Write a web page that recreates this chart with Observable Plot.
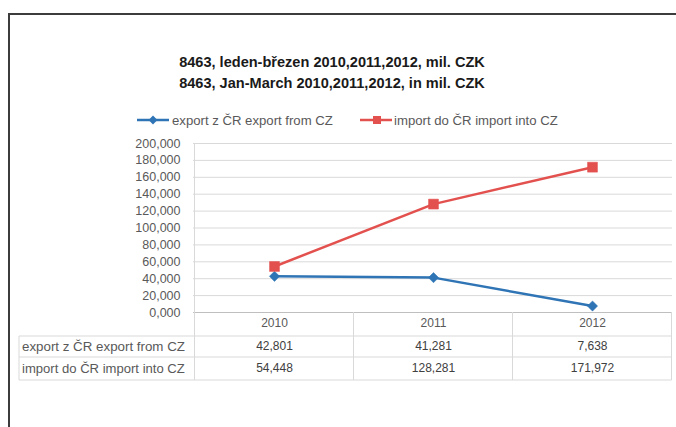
<!DOCTYPE html>
<html>
<head>
<meta charset="utf-8">
<script src="https://cdn.jsdelivr.net/npm/d3@7"></script>
<script src="https://cdn.jsdelivr.net/npm/@observablehq/plot@0.6"></script>
<style>
  html, body { margin: 0; padding: 0; background: #ffffff; }
  #chart { position: relative; width: 676px; height: 427px; overflow: hidden; }
</style>
</head>
<body>
<div id="chart"></div>
<script>
// ---- data ----
const years = ["2010", "2011", "2012"];
const exportValues = [42.801, 41.281, 7.638];
const importValues = [54.448, 128.281, 171.972];
const seriesNames = ["export z ČR export from CZ", "import do ČR import into CZ"];
const titleLines = ["8463, leden-březen 2010,2011,2012, mil. CZK", "8463, Jan-March 2010,2011,2012, in mil. CZK"];
const yTicks = [0, 20, 40, 60, 80, 100, 120, 140, 160, 180, 200];

const blue = "#2f74b5";
const red = "#e3514f";
const gridColor = "#d9d9d9";
const textColor = "#595959";
const font = "Liberation Sans, Arial, sans-serif";

const czFmt = d3.formatLocale({decimal: ",", thousands: " ", grouping: [3], currency: ["", ""]}).format(".3f");

const exportData = years.map((y, i) => ({year: y, value: exportValues[i]}));
const importData = years.map((y, i) => ({year: y, value: importValues[i]}));

const plot = Plot.plot({
  width: 676,
  height: 427,
  marginLeft: 193,
  marginRight: 4,
  marginTop: 143,
  marginBottom: 115,
  style: {fontFamily: font, background: "transparent", color: textColor, overflow: "visible"},
  x: {type: "point", domain: years, padding: 0.5, axis: null},
  y: {domain: [0, 200], axis: null},
  marks: [
    Plot.gridY(yTicks, {stroke: gridColor, strokeOpacity: 1, strokeWidth: 1}),
    Plot.ruleY([0], {stroke: "#bfbfbf", strokeWidth: 1}),
    Plot.axisY(yTicks, {tickSize: 0, tickPadding: 13, tickFormat: czFmt, fontSize: 12.5, fill: textColor, label: null}),
    Plot.axisX({tickSize: 0, tickPadding: 6, fontSize: 12, fill: textColor, label: null}),
    Plot.line(exportData, {x: "year", y: "value", stroke: blue, strokeWidth: 2.5}),
    Plot.line(importData, {x: "year", y: "value", stroke: red, strokeWidth: 2.5}),
    Plot.dot(exportData, {x: "year", y: "value", symbol: "diamond2", r: 4.6, fill: blue, stroke: blue, strokeWidth: 0.5}),
    Plot.dot(importData, {x: "year", y: "value", symbol: "square", r: 5.6, fill: red, stroke: red, strokeWidth: 0.5}),
    Plot.text(exportData, {x: "year", text: d => czFmt(d.value), frameAnchor: "bottom", dy: 34, lineAnchor: "middle", fontSize: 12, fill: "#404040"}),
    Plot.text(importData, {x: "year", text: d => czFmt(d.value), frameAnchor: "bottom", dy: 56, lineAnchor: "middle", fontSize: 12, fill: "#404040"})
  ]
});

document.getElementById("chart").appendChild(plot);

const svg = d3.select(plot);
const xs = plot.scale("x");
const ys = plot.scale("y");
const pos = years.map(y => xs.apply(y));
const step = pos[1] - pos[0];
const left = pos[0] - step / 2;
const right = pos[pos.length - 1] + step / 2;
const y0 = ys.apply(0);
const yTop = ys.apply(200);
const rowH = [24, 21, 23];
const row1 = y0 + rowH[0], row2 = row1 + rowH[1], row3 = row2 + rowH[2];
const tableLeft = 19;

const g = svg.append("g").attr("stroke", gridColor).attr("stroke-width", 1).attr("fill", "none");
// y axis line continuing into the table
g.append("line").attr("x1", left).attr("x2", left).attr("y1", yTop).attr("y2", row3);
// band boundaries in the table
pos.map(p => p + step / 2).forEach(x => {
  g.append("line").attr("x1", x).attr("x2", x).attr("y1", y0).attr("y2", row3);
});
g.append("line").attr("x1", tableLeft).attr("x2", tableLeft).attr("y1", row1).attr("y2", row3);
[row1, row2, row3].forEach(y => {
  g.append("line").attr("x1", tableLeft).attr("x2", right).attr("y1", y).attr("y2", y);
});

// fit helper
function fit(sel, target) {
  const n = sel.node();
  const w = n.getComputedTextLength();
  const fs = parseFloat(sel.attr("font-size"));
  sel.attr("font-size", (fs * target / w).toFixed(2));
}

// row labels
const labels = svg.append("g").attr("font-family", font).attr("fill", textColor).attr("text-anchor", "start");
[(row1 + row2) / 2, (row2 + row3) / 2].forEach((cy, i) => {
  const t = labels.append("text").attr("x", 22).attr("y", cy).attr("dy", "0.35em")
    .attr("font-size", 11).text(seriesNames[i]);
  fit(t, 163);
});

// title
const tg = svg.append("g").attr("font-family", font).attr("font-weight", "bold").attr("fill", "#1a1a1a").attr("text-anchor", "middle");
[62, 83].forEach((cy, i) => {
  const t = tg.append("text").attr("x", 332).attr("y", cy).attr("dy", "0.35em").attr("font-size", 13).text(titleLines[i]);
  fit(t, 306);
});

// legend
const lg = svg.append("g").attr("font-family", font).attr("fill", textColor).attr("text-anchor", "start");
const legY = 120;
lg.append("line").attr("x1", 137).attr("x2", 169).attr("y1", legY).attr("y2", legY).attr("stroke", blue).attr("stroke-width", 2.5);
lg.append("path").attr("d", d3.symbol(d3.symbolDiamond2, 50)()).attr("transform", `translate(153,${legY})`).attr("fill", blue);
const lt1 = lg.append("text").attr("x", 172).attr("y", legY).attr("dy", "0.35em").attr("font-size", 11).text(seriesNames[0]);
fit(lt1, 161);
lg.append("line").attr("x1", 360).attr("x2", 392).attr("y1", legY).attr("y2", legY).attr("stroke", red).attr("stroke-width", 2.5);
lg.append("path").attr("d", d3.symbol(d3.symbolSquare, 64)()).attr("transform", `translate(377,${legY})`).attr("fill", red);
const lt2 = lg.append("text").attr("x", 394).attr("y", legY).attr("dy", "0.35em").attr("font-size", 11).text(seriesNames[1]);
fit(lt2, 164);

// outer frame (left and top edges)
const fg = svg.append("g").attr("stroke", "#3c3c3c").attr("stroke-width", 2);
fg.append("line").attr("x1", 9).attr("x2", 9).attr("y1", 13).attr("y2", 427);
fg.append("line").attr("x1", 8).attr("x2", 676).attr("y1", 14).attr("y2", 14);
</script>
</body>
</html>
